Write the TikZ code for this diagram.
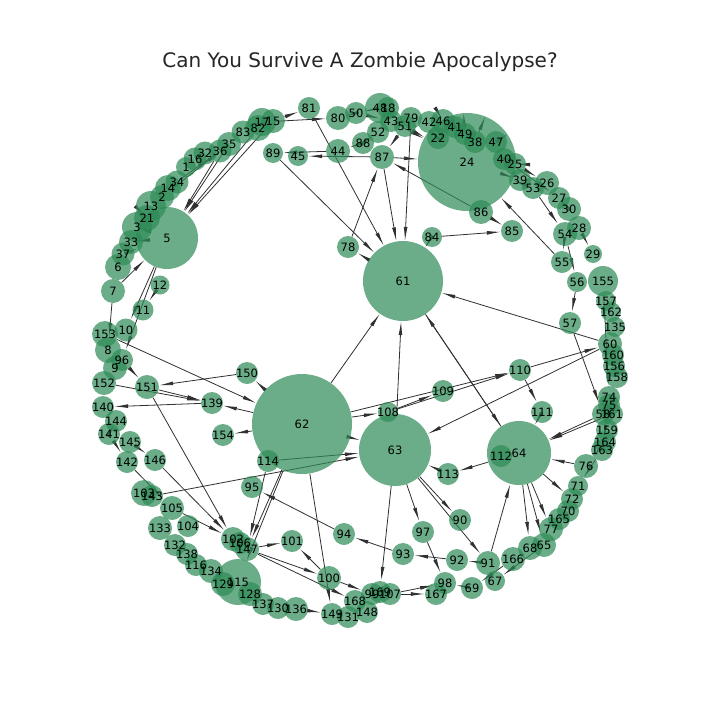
\documentclass[tikz,border=0pt]{standalone}
\usepackage{fontspec}
\setmainfont{DejaVu Sans}
\usetikzlibrary{arrows.meta}
\definecolor{zomgreen}{HTML}{2E8B57}
\definecolor{zomedge}{HTML}{303030}
\definecolor{zomtitle}{HTML}{262626}
\pgfdeclarelayer{back}
\pgfdeclarelayer{edges}
\pgfdeclarelayer{labels}
\pgfsetlayers{back,edges,main,labels}
\tikzset{
  vtx/.style={circle,fill=zomgreen,fill opacity=0.7,draw=none,inner sep=0pt},
  vlab/.style={font=\fontsize{11.5}{11.5}\selectfont,text=black,inner sep=0pt},
  edg/.style={draw=zomedge,line width=0.8pt,-{Latex[length=14pt,width=3.8pt]}}
}
% one person: a disc and its number on top
\newcommand{\zvert}[4][11.5]{%
  \node[vtx,minimum size={2*#1pt}] (v#2) at (#3,#4) {};
  \begin{pgfonlayer}{labels}\node[vlab] at (#3,#4) {#2};\end{pgfonlayer}}

\begin{document}
\begin{tikzpicture}[x=1pt,y=-1pt]
  \begin{pgfonlayer}{back}
    \fill[white] (0,0) rectangle (720,720);
  \end{pgfonlayer}
  \useasboundingbox (0,0) rectangle (720,720);
  \node[font=\fontsize{20}{20}\selectfont,text=zomtitle,anchor=base] (title) at (360,67) {Can You Survive A Zombie Apocalypse?};

  % the big ones
  \zvert[49]{24}{467}{162}
  \zvert[50]{62}{302}{424}
  \zvert[40]{61}{403}{281}
  \zvert[36]{63}{395}{450}
  \zvert[32]{64}{519}{453}
  \zvert[31]{5}{167}{238}
  \zvert[23]{115}{238}{582}

  % upper left arc
  \zvert[10]{1}{186}{167}
  \zvert[12]{2}{162}{197}
  \zvert[15]{3}{137}{227}
  \zvert[13]{6}{118}{267}
  \zvert[12]{7}{113}{291}
  \zvert[15]{13}{151}{206}
  \zvert[13]{14}{168}{188}
  \zvert{16}{195}{159}
  \zvert[14]{17}{262}{122}
  \zvert[12]{15}{273}{121}
  \zvert[13]{82}{258}{128}
  \zvert{83}{243}{132}
  \zvert[13]{21}{147}{218}
  \zvert{32}{205}{153}
  \zvert[12]{33}{131}{242}
  \zvert{34}{177}{182}
  \zvert[12]{35}{229}{144}
  \zvert{36}{220}{151}
  \zvert{37}{123}{254}

  % left side
  \zvert[9.5]{12}{160}{285}
  \zvert[10.5]{11}{143}{310}
  \zvert{10}{126}{330}
  \zvert[13]{153}{105}{334}
  \zvert[13]{8}{108}{350}
  \zvert[11]{96}{122}{360}
  \zvert[12]{9}{115}{368}
  \zvert[12]{152}{104}{383}
  \zvert[12]{151}{147}{387}
  \zvert[11]{150}{247}{373}
  \zvert[11]{140}{103}{407}
  \zvert[11]{144}{116}{421}
  \zvert[11]{141}{109}{434}
  \zvert[11]{145}{130}{442}
  \zvert[11]{142}{127}{462}
  \zvert[11]{146}{155}{460}
  \zvert[11]{139}{212}{403}
  \zvert[11]{154}{223}{435}
  \zvert[11]{114}{268}{461}
  \zvert[11]{95}{252}{487}

  % lower left arc
  \zvert[13]{103}{144}{493}
  \zvert[11]{143}{152}{496}
  \zvert[12]{105}{172}{508}
  \zvert[11]{104}{188}{526}
  \zvert[12]{133}{160}{528}
  \zvert[11]{132}{175}{545}
  \zvert[11]{138}{187}{554}
  \zvert[11]{116}{196}{565}
  \zvert[12]{134}{211}{571}
  \zvert[12]{129}{223}{584}
  \zvert[12]{128}{250}{594}
  \zvert[11]{137}{263}{604}
  \zvert[11]{130}{278}{608}
  \zvert[12]{136}{296}{609}
  \zvert[12]{102}{233}{539}
  \zvert[11]{106}{240}{543}
  \zvert[12]{147}{247}{549}

  % bottom
  \zvert[11]{101}{292}{541}
  \zvert[12]{100}{329}{578}
  \zvert[11]{94}{344}{534}
  \zvert[11]{149}{332}{614}
  \zvert[11]{131}{348}{617}
  \zvert[11]{148}{367}{612}
  \zvert[11]{168}{355}{601}
  \zvert[11]{99}{372}{594}
  \zvert[11]{169}{380}{592}
  \zvert[11]{107}{390}{594}
  \zvert[11]{93}{403}{554}
  \zvert[11]{97}{423}{532}
  \zvert[11]{92}{457}{560}
  \zvert[11]{98}{445}{583}
  \zvert[11]{167}{436}{594}
  \zvert[11]{90}{460}{520}
  \zvert[12]{91}{488}{563}
  \zvert[11]{113}{448}{474}
  \zvert[11]{69}{472}{588}
  \zvert[10]{67}{495}{581}

  % lower right arc
  \zvert[12]{166}{513}{559}
  \zvert[12]{68}{530}{548}
  \zvert[12]{65}{544}{545}
  \zvert[12]{77}{551}{529}
  \zvert[11]{165}{559}{519}
  \zvert[11]{70}{568}{511}
  \zvert[11]{72}{572}{499}
  \zvert[10]{71}{578}{486}
  \zvert[12]{76}{586}{466}
  \zvert[11]{112}{501}{456}

  % right arc
  \zvert[11]{163}{602}{450}
  \zvert[11]{164}{605}{442}
  \zvert[11]{159}{607}{430}
  \zvert[11]{58}{603}{414}
  \zvert[11]{161}{612}{414}
  \zvert[11]{75}{609}{405}
  \zvert[11]{74}{609}{397}
  \zvert[11]{158}{617}{377}
  \zvert[11]{156}{614}{366}
  \zvert[11]{160}{613}{355}
  \zvert[12]{60}{610}{344}
  \zvert[10]{135}{615}{327}
  \zvert[10]{162}{611}{312}
  \zvert[10]{157}{606}{301}
  \zvert[15]{155}{603}{281}
  \zvert[10]{56}{577}{282}
  \zvert[11]{57}{570}{323}

  % middle
  \zvert[11]{110}{520}{370}
  \zvert[11]{111}{542}{412}
  \zvert[11]{109}{443}{391}
  \zvert[10]{108}{388}{412}
  \zvert[11]{78}{348}{247}
  \zvert[10]{84}{432}{237}
  \zvert[11]{85}{512}{231}
  \zvert[12]{86}{481}{212}

  % upper right arc
  \zvert[11]{55}{562}{262}
  \zvert[9]{29}{593}{254}
  \zvert[12]{54}{565}{234}
  \zvert[12]{28}{579}{228}
  \zvert[12]{30}{569}{209}
  \zvert[11]{27}{559}{198}
  \zvert[12]{26}{547}{183}
  \zvert[11]{53}{533}{188}
  \zvert[11]{39}{520}{180}
  \zvert[11]{25}{515}{164}
  \zvert[11]{40}{504}{159}
  \zvert[11]{47}{496}{142}
  \zvert[11]{38}{475}{142}
  \zvert[11]{49}{465}{134}
  \zvert[11]{41}{455}{127}
  \zvert[11]{22}{438}{138}
  \zvert[12]{46}{443}{121}
  \zvert[11]{42}{429}{122}

  % top
  \zvert[11]{79}{411}{118}
  \zvert[11]{51}{405}{126}
  \zvert[11]{43}{391}{121}
  \zvert[15]{48}{380}{108}
  \zvert[11]{18}{388}{108}
  \zvert[11]{52}{378}{132}
  \zvert[11]{88}{363}{143}
  \zvert[12]{87}{382}{157}
  \zvert[11]{50}{356}{113}
  \zvert[12]{80}{338}{118}
  \zvert[11]{81}{309}{108}
  \zvert[12]{44}{338}{151}
  \zvert[10]{45}{298}{156}
  \zvert[10]{89}{273}{153}

  \begin{pgfonlayer}{edges}
    \foreach \a/\b in {36/5,35/5,82/5,15/5,14/36,2/35,21/5,3/5,33/5,37/5,7/5,5/10,5/96,12/11,7/8,
      153/62,96/151,150/151,62/150,152/139,151/139,62/139,139/140,62/154,151/102,141/142,145/146,144/141,
      143/63,142/105,105/102,146/102,62/147,62/115,114/147,94/95,93/94,92/93,97/98,63/97,63/90,63/91,
      113/63,64/113,63/169,62/149,100/101,100/99,147/101,147/100,147/168,136/149,107/98,107/167,69/98,
      91/64,91/92,64/68,64/65,64/77,64/72,76/64,65/67,166/69,60/61,62/61,63/61,61/64,64/61,62/63,114/63,
      62/108,62/110,108/110,108/109,60/63,110/60,110/111,111/64,58/64,161/64,57/58,56/57,163/71,164/76,
      54/56,54/55,53/54,55/24,25/26,40/27,28/29,27/30,86/85,84/85,84/61,43/24,51/24,42/24,22/24,46/24,
      41/24,49/24,38/24,47/24,40/24,25/24,39/24,53/24,87/24,86/87,51/87,87/61,79/61,81/61,89/61,61/78,
      78/87,88/44,44/89,87/45,52/88,50/43,50/48,15/81,17/80,80/50,155/74,75/163}
      \draw[edg] (v\a) -- (v\b);
  \end{pgfonlayer}
\end{tikzpicture}
\end{document}
